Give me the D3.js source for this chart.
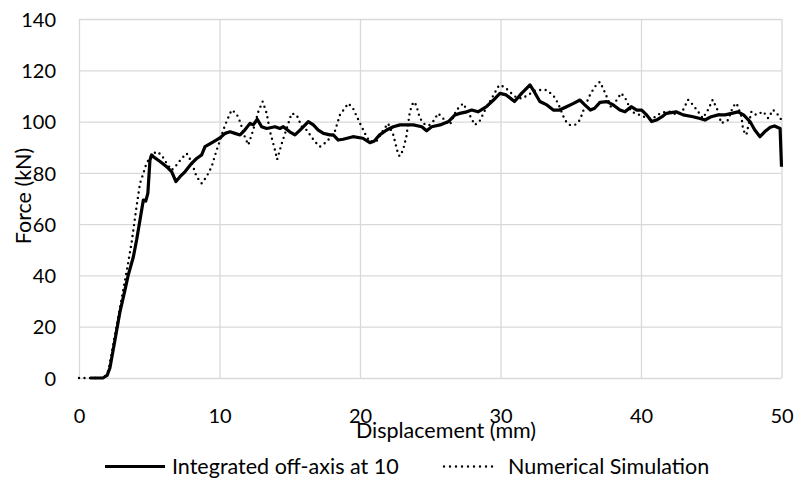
<!DOCTYPE html>
<html>
<head>
<meta charset="utf-8">
<script src="https://cdn.jsdelivr.net/npm/d3@7"></script>
<style>
  body { margin: 0; background: #fff; }
  text { font-family: Lato, "Open Sans", sans-serif; fill: #000; }
</style>
</head>
<body>
<svg id="chart" width="804" height="479"></svg>
<script>
// Tick values
const xTicks = [0, 10, 20, 30, 40, 50];
const yTicks = [0, 20, 40, 60, 80, 100, 120, 140];

// Series names
const seriesNames = ["Integrated off-axis at 10", "Numerical Simulation"];
const xTitle = "Displacement (mm)";
const yTitle = "Force (kN)";

// Test curve: [displacement mm, force kN]
const integrated = [
  [0.8,0],[1.7,0],[2.0,1],[2.2,3.9],[2.56,14.8],[2.92,25.9],[3.27,34.3],[3.5,40],[3.87,47.3],
  [4.1,53.8],[4.22,57.7],[4.58,69.4],[4.75,69],[4.9,72],[5.05,85],[5.17,87],[5.29,86.3],
  [5.77,84.4],[6.24,82.4],[6.6,80.4],[6.9,76.6],[7.19,78.5],[7.54,80.4],[8.02,83.7],[8.37,85.6],
  [8.73,87],[8.97,90.2],[9.56,92.1],[10,93.5],[10.4,95.4],[10.75,96],[11.1,95.4],[11.46,94.8],
  [11.8,96.7],[12.17,99.3],[12.4,98.7],[12.69,100.9],[13,98],[13.36,97.3],[13.95,98],[14.3,97.3],
  [14.54,98],[15,96],[15.37,94.8],[15.73,96.7],[16.1,98.7],[16.32,100],[16.68,98.7],[17.03,96.7],
  [17.4,95.4],[17.86,94.8],[18.1,94.8],[18.45,92.8],[18.8,93.1],[19.5,94.1],[20.2,93.5],[20.7,91.8],
  [21.0,92.3],[21.4,94.8],[21.9,96.7],[22.37,98],[22.85,98.7],[23.8,98.7],[24.4,98],[24.74,96.4],
  [25.1,98],[25.7,98.7],[26.3,100],[26.76,102.6],[27.1,103.2],[27.6,103.8],[27.95,104.5],[28.4,103.8],
  [29.0,105.8],[29.5,108.4],[29.96,111],[30.4,110.4],[31.0,107.8],[31.5,111],[32.1,114.3],[32.33,112.3],
  [32.8,107.8],[33.3,106.5],[33.76,104.5],[34.2,104.5],[34.7,105.8],[35.2,107.1],[35.66,108.4],[36.0,106.5],
  [36.4,104.5],[36.7,105.2],[37.08,107.5],[37.56,107.8],[38.03,106.5],[38.5,104.5],[38.86,103.8],[39.3,105.8],
  [39.7,104.5],[40.05,104.5],[40.4,102.6],[40.76,100],[41.1,100.6],[41.5,101.9],[41.8,103.2],[42.5,103.8],
  [43.0,102.6],[43.7,101.9],[44.2,101.2],[44.55,100.6],[45.0,101.9],[45.5,102.6],[45.98,102.6],[46.45,103.2],
  [46.9,103.8],[47.3,102.6],[47.76,100],[48.1,96.7],[48.47,94.1],[48.8,96],[49.2,97.8],[49.5,98.3],
  [49.9,97.3],[50,82.4]
];

// Simulation curve: [displacement mm, force kN]
const simulation = [
  [0,0],[1.8,0],[2.1,3],[2.32,9.6],[2.7,21],[3.0,30],[3.39,41.5],[3.75,53],[4.1,67],[4.34,75.9],
  [4.58,79.8],[4.8,83.7],[5.17,87],[5.53,88.3],[5.88,87],[6.24,83.7],[6.6,81.1],[6.95,83.1],[7.3,85.6],
  [7.66,87.6],[8.0,84.4],[8.37,78.5],[8.73,75.9],[9.08,78.5],[9.44,82.4],[9.8,88.9],[10.0,92.1],
  [10.27,96.7],[10.5,100],[10.86,104.5],[11.2,103.2],[11.46,100],[11.8,94.1],[12.05,90.9],[12.4,96.7],
  [12.76,103.8],[13.07,107.8],[13.36,103.2],[13.6,96],[13.95,88.9],[14.1,85.2],[14.4,90.9],[14.78,97.3],
  [15.13,103.2],[15.49,102.6],[15.85,98],[16.2,96.7],[16.8,92.1],[17.15,90.2],[17.63,92.1],[18.2,96],
  [18.57,102.6],[19.17,107.1],[19.5,105.2],[20.0,99.3],[20.35,95.4],[20.7,92.1],[21.2,92.5],[21.66,96.7],
  [22.0,99.3],[22.37,94.8],[22.73,87],[22.84,86.5],[23.07,89],[23.3,94.2],[23.55,103.9],[23.8,107.7],
  [24.0,106.5],[24.26,101.3],[24.6,99],[24.9,98.5],[25.2,100],[25.56,103.2],[25.9,101.3],[26.4,98.7],
  [26.87,104.5],[27.34,107.1],[27.8,102.6],[28.17,98.7],[28.5,100],[28.9,104.5],[29.5,110.3],[29.9,114.2],
  [30.3,113.5],[30.66,111.6],[31.1,109.5],[31.5,109],[32.0,110.5],[32.4,112],[32.8,112.3],[33.27,112.3],
  [33.75,110.3],[34.1,107.1],[34.58,100.6],[34.9,98.7],[35.3,98.7],[35.65,100.6],[36.0,105.8],[36.36,110.3],
  [36.7,113.5],[37.07,115.5],[37.3,113],[37.5,110.5],[37.9,105.2],[38.36,109.2],[38.6,111.1],[38.95,108.5],
  [39.3,103.9],[39.9,102.6],[40.4,101.5],[40.85,101.3],[41.45,103.5],[42.0,103.9],[42.6,102.6],[43.0,104.6],
  [43.35,108.5],[43.7,106.5],[44.06,103.9],[44.4,101.3],[44.77,104.6],[45.1,108.5],[45.5,103.9],[45.7,99.3],
  [46.2,100.6],[46.55,105.9],[46.8,107.2],[47.15,102],[47.27,96.7],[47.5,94.8],[47.86,103.9],[48.2,102.6],
  [48.7,103.9],[49.05,101.3],[49.4,104.6],[49.76,102.6],[50,100.6]
];

const svg = d3.select("#chart");
const plot = { left: 79, right: 781.5, top: 19, bottom: 378 };
const tickFont = 20;
const labelFont = 21.5;

const x = d3.scaleLinear().domain([0, 50]).range([plot.left, plot.right]);
const y = d3.scaleLinear().domain([0, 140]).range([plot.bottom, plot.top]);

// Vertical gridlines
svg.append("g")
  .attr("transform", `translate(0,${plot.bottom})`)
  .call(d3.axisBottom(x).tickValues(xTicks).tickSize(-(plot.bottom - plot.top)).tickFormat(""))
  .call(g => g.select(".domain").remove())
  .selectAll("line").attr("stroke", "#d9d9d9").attr("stroke-width", 1.3);

// Horizontal gridlines
svg.append("g")
  .attr("transform", `translate(${plot.left},0)`)
  .call(d3.axisLeft(y).tickValues(yTicks).tickSize(-(plot.right - plot.left)).tickFormat(""))
  .call(g => g.select(".domain").remove())
  .selectAll("line").attr("stroke", "#d9d9d9").attr("stroke-width", 1.3);

// X tick labels
const xAxis = svg.append("g")
  .attr("transform", `translate(0,${plot.bottom})`)
  .call(d3.axisBottom(x).tickValues(xTicks).tickSize(0).tickFormat(d3.format("d")));
xAxis.select(".domain").remove();
xAxis.selectAll("text")
  .attr("y", 45).attr("dy", null)
  .style("font-size", tickFont + "px").style("font-family", "Lato, sans-serif").attr("fill", "#000");

// Y tick labels
const yAxis = svg.append("g")
  .attr("transform", `translate(${plot.left},0)`)
  .call(d3.axisLeft(y).tickValues(yTicks).tickSize(0).tickFormat(d3.format("d")));
yAxis.select(".domain").remove();
yAxis.selectAll("text")
  .attr("x", -23).attr("dy", "0.36em")
  .style("font-size", tickFont + "px").style("font-family", "Lato, sans-serif").attr("fill", "#000");

// Axis titles
svg.append("text")
  .attr("x", 446).attr("y", 438)
  .attr("text-anchor", "middle")
  .style("font-size", labelFont + "px")
  .text(xTitle);

svg.append("text")
  .attr("transform", "translate(31,196) rotate(-90)")
  .attr("text-anchor", "middle")
  .style("font-size", labelFont + "px")
  .text(yTitle);

// Curves
const line = d3.line().x(d => x(d[0])).y(d => y(d[1]));

svg.append("path")
  .datum(integrated)
  .attr("d", line)
  .attr("fill", "none")
  .attr("stroke", "#000")
  .attr("stroke-width", 3.2)
  .attr("stroke-linejoin", "round");

svg.append("path")
  .datum(simulation)
  .attr("d", line)
  .attr("fill", "none")
  .attr("stroke", "#000")
  .attr("stroke-width", 2.4)
  .attr("stroke-linecap", "round")
  .attr("stroke-dasharray", "0 5.5");

// Legend
const legend = svg.append("g");
legend.append("line")
  .attr("x1", 105).attr("x2", 165).attr("y1", 466.5).attr("y2", 466.5)
  .attr("stroke", "#000").attr("stroke-width", 3.2);
legend.append("text")
  .attr("x", 172).attr("y", 473.5)
  .style("font-size", labelFont + "px")
  .text(seriesNames[0]);
legend.append("line")
  .attr("x1", 444).attr("x2", 493).attr("y1", 466.5).attr("y2", 466.5)
  .attr("stroke", "#000").attr("stroke-width", 2.4)
  .attr("stroke-linecap", "round").attr("stroke-dasharray", "0 6");
legend.append("text")
  .attr("x", 508).attr("y", 473.5)
  .style("font-size", labelFont + "px")
  .text(seriesNames[1]);
</script>
</body>
</html>
